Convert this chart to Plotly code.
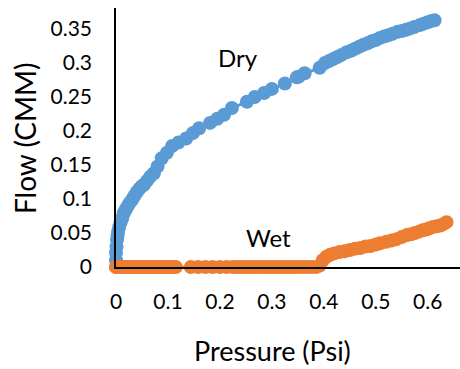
import plotly.graph_objects as go

# Dry run: pressure (psi) vs flow (CMM)
dry_pressure = [0.000, 0.000, 0.000, 0.001, 0.002, 0.003, 0.004, 0.006, 0.009, 0.012,
                0.015, 0.019, 0.023, 0.027, 0.031, 0.035, 0.040, 0.045, 0.050, 0.054,
                0.060, 0.066, 0.073, 0.080, 0.088, 0.098, 0.108, 0.120, 0.135, 0.148,
                0.160, 0.181, 0.195, 0.208, 0.223, 0.252, 0.267, 0.285, 0.300, 0.325,
                0.348, 0.352, 0.363, 0.392, 0.402, 0.410, 0.418, 0.426, 0.434, 0.444,
                0.452, 0.460, 0.468, 0.476, 0.484, 0.492, 0.500, 0.508, 0.516, 0.524,
                0.532, 0.542, 0.550, 0.558, 0.566, 0.574, 0.585, 0.592, 0.600, 0.607,
                0.613]
dry_flow = [0.000, 0.010, 0.021, 0.030, 0.040, 0.046, 0.052, 0.059, 0.066, 0.072,
            0.079, 0.085, 0.090, 0.095, 0.099, 0.104, 0.110, 0.115, 0.119, 0.121,
            0.127, 0.133, 0.138, 0.148, 0.160, 0.168, 0.178, 0.183, 0.189, 0.197,
            0.204, 0.212, 0.218, 0.224, 0.234, 0.243, 0.250, 0.256, 0.262, 0.270,
            0.279, 0.280, 0.285, 0.293, 0.300, 0.303, 0.306, 0.309, 0.312, 0.316,
            0.318, 0.321, 0.324, 0.327, 0.329, 0.332, 0.334, 0.337, 0.339, 0.341,
            0.343, 0.346, 0.347, 0.349, 0.351, 0.353, 0.356, 0.358, 0.360, 0.362,
            0.363]

# Wet run: no flow until about 0.39 psi
wet_pressure = [0.000, 0.005, 0.010, 0.015, 0.020, 0.025, 0.030, 0.035, 0.040, 0.045,
                0.050, 0.055, 0.060, 0.065, 0.070, 0.075, 0.080, 0.085, 0.090, 0.095,
                0.100, 0.105, 0.110, 0.115, 0.144, 0.158, 0.172, 0.186, 0.200, 0.213,
                0.225, 0.233, 0.241, 0.249, 0.257, 0.265, 0.273, 0.281, 0.289, 0.297,
                0.305, 0.313, 0.321, 0.329, 0.337, 0.345, 0.353, 0.361, 0.369, 0.377,
                0.385, 0.392, 0.398, 0.405, 0.412, 0.420, 0.430, 0.440, 0.450, 0.460,
                0.470, 0.480, 0.490, 0.500, 0.508, 0.520, 0.530, 0.540, 0.550, 0.560,
                0.568, 0.575, 0.583, 0.590, 0.597, 0.603, 0.610, 0.617, 0.624, 0.630,
                0.636]
wet_flow = [0.000, 0.000, 0.000, 0.000, 0.000, 0.000, 0.000, 0.000, 0.000, 0.000,
            0.000, 0.000, 0.000, 0.000, 0.000, 0.000, 0.000, 0.000, 0.000, 0.000,
            0.000, 0.000, 0.000, 0.000, 0.000, 0.000, 0.000, 0.000, 0.000, 0.000,
            0.000, 0.000, 0.000, 0.000, 0.000, 0.000, 0.000, 0.000, 0.000, 0.000,
            0.000, 0.000, 0.000, 0.000, 0.000, 0.000, 0.000, 0.000, 0.000, 0.000,
            0.000, 0.002, 0.010, 0.015, 0.018, 0.020, 0.022, 0.023, 0.025, 0.027,
            0.028, 0.030, 0.031, 0.033, 0.035, 0.037, 0.039, 0.041, 0.044, 0.047,
            0.048, 0.050, 0.052, 0.054, 0.055, 0.057, 0.059, 0.060, 0.061, 0.063,
            0.066]

x_ticks = [0, 0.1, 0.2, 0.3, 0.4, 0.5, 0.6]
x_tick_labels = ["0", "0.1", "0.2", "0.3", "0.4", "0.5", "0.6"]
y_ticks = [0, 0.05, 0.1, 0.15, 0.2, 0.25, 0.3, 0.35]
y_tick_labels = ["0", "0.05", "0.1", "0.15", "0.2", "0.25", "0.3", "0.35"]

BLUE = "#5B9BD5"
ORANGE = "#ED7D31"
FONT = "Lato"

fig = go.Figure()
fig.add_trace(go.Scatter(
    x=dry_pressure, y=dry_flow, mode="lines+markers", name="Dry",
    line=dict(color=BLUE, width=3),
    marker=dict(color=BLUE, size=14, line=dict(width=0)),
    cliponaxis=False,
))
fig.add_trace(go.Scatter(
    x=wet_pressure, y=wet_flow, mode="lines+markers", name="Wet",
    line=dict(color=ORANGE, width=3),
    marker=dict(color=ORANGE, size=14, line=dict(width=0)),
    cliponaxis=False,
))

L, T, W, H = 116, 8, 460, 369
B = 102
pw, ph = W - L, H - T - B


def px(x, y):
    return (x - L) / pw, (H - B - y) / ph


ax, ay = px(25, 138)
fig.add_annotation(text="Flow (CMM)", x=ax, y=ay, xref="paper", yref="paper",
                   textangle=-90, showarrow=False, xanchor="center", yanchor="middle",
                   font=dict(family=FONT, size=28, color="black"))
ax, ay = px(272, 350)
fig.add_annotation(text="Pressure (Psi)", x=ax, y=ay, xref="paper", yref="paper",
                   showarrow=False, xanchor="center", yanchor="middle",
                   font=dict(family=FONT, size=27, color="black"))
fig.add_annotation(text="Dry", x=0.235, y=0.308, xref="x", yref="y",
                   showarrow=False, xanchor="center", yanchor="middle",
                   font=dict(family=FONT, size=24, color="black"))
fig.add_annotation(text="Wet", x=0.293, y=0.044, xref="x", yref="y",
                   showarrow=False, xanchor="center", yanchor="middle",
                   font=dict(family=FONT, size=24, color="black"))

fig.update_layout(
    width=W, height=H,
    margin=dict(l=L, r=0, t=T, b=B),
    plot_bgcolor="white", paper_bgcolor="white",
    showlegend=False,
    font=dict(family=FONT, size=21, color="black"),
    xaxis=dict(range=[0, 0.662], tickvals=x_ticks, ticktext=x_tick_labels,
               showgrid=False, zeroline=False, showline=True, linecolor="black",
               linewidth=1.5, ticks="", ticklabelstandoff=15),
    yaxis=dict(range=[0, 0.381], tickvals=y_ticks, ticktext=y_tick_labels,
               showgrid=False, zeroline=False, showline=True, linecolor="black",
               linewidth=1.5, ticks="", ticklabelstandoff=18),
)

fig.write_html("out.html")
